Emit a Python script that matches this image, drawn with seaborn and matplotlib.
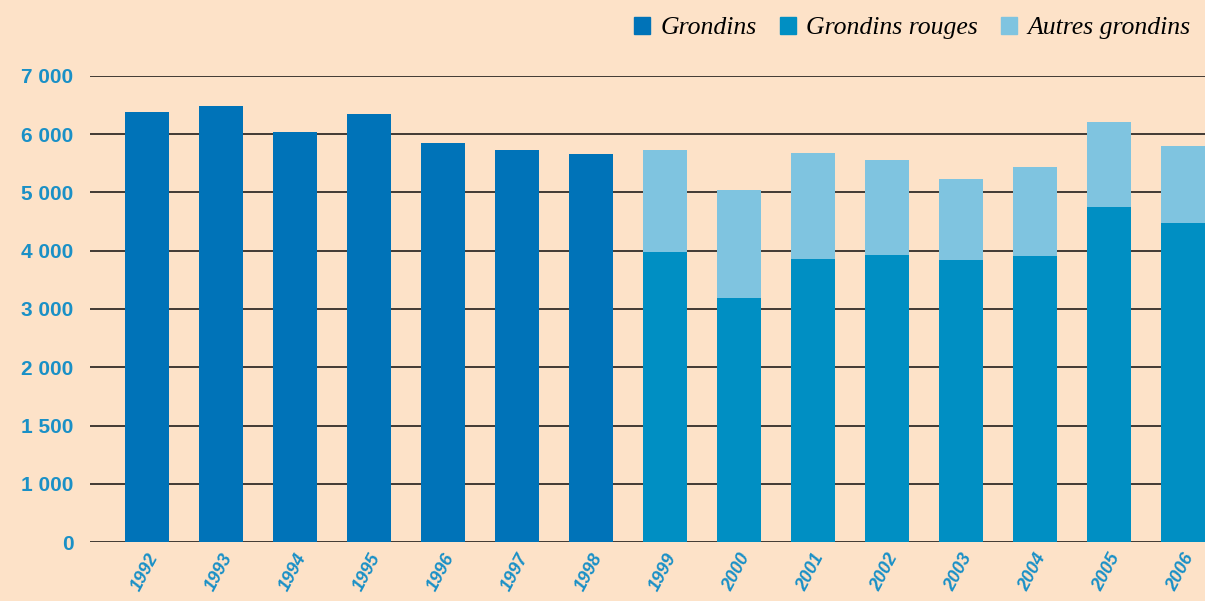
import matplotlib
matplotlib.use("Agg")
import matplotlib.pyplot as plt
from matplotlib.patches import Patch
import seaborn as sns
import numpy as np
import pandas as pd

years = [str(y) for y in range(1992, 2007)]
grondins_years = years[:7]
grondins = [6370, 6480, 6040, 6350, 5850, 5730, 5660]
split_years = years[7:]
grondins_rouges = [3970, 3180, 3860, 3930, 3840, 3910, 4750, 4480]
autres_grondins = [1760, 1855, 1820, 1630, 1380, 1530, 1460, 1320]

# the axis of the source is evenly spaced but labelled unevenly
tick_vals = [0, 1000, 1500, 2000, 3000, 4000, 5000, 6000, 7000]
tick_labels = ["0", "1 000", "1 500", "2 000", "3 000", "4 000", "5 000", "6 000", "7 000"]

c_gr = "#0073b8"
c_rouge = "#008fc3"
c_autres = "#7fc4e0"
bg = "#fde2c8"
blue_txt = "#1a90c6"

totals = [r + a for r, a in zip(grondins_rouges, autres_grondins)]
df_gr = pd.DataFrame({"year": grondins_years, "v": grondins})
df_tot = pd.DataFrame({"year": split_years, "v": totals})
df_rouge = pd.DataFrame({"year": split_years, "v": grondins_rouges})

_v = [-1000] + tick_vals + [8000]
_p = list(range(-1, len(tick_vals) + 1))


def fwd(x):
    return np.interp(x, _v, _p)


def inv(p):
    return np.interp(p, _p, _v)


sns.set_style("white")
sans = ["Liberation Sans", "DejaVu Sans"]
fig = plt.figure(figsize=(12.05, 6.01), dpi=100, facecolor=bg)
ax = fig.add_axes([0.0747, 0.098, 0.9253, 0.776])
ax.set_facecolor(bg)

ax.set_yscale("function", functions=(fwd, inv))
for v in tick_vals:
    ax.axhline(v, color="#221e1a", lw=1.2, zorder=0)

kw = dict(x="year", y="v", order=years, width=0.59, saturation=1, ax=ax,
          errorbar=None, linewidth=0, zorder=2)
sns.barplot(data=df_gr, color=c_gr, **kw)
sns.barplot(data=df_tot, color=c_autres, **kw)
sns.barplot(data=df_rouge, color=c_rouge, **kw)

ax.set_ylim(0, 7000)
ax.set_xlim(-0.77, 14.3)
ax.set_yticks(tick_vals)
ax.set_yticklabels(tick_labels)
ax.yaxis.set_minor_locator(matplotlib.ticker.NullLocator())
ax.tick_params(axis="y", length=0, pad=12, labelcolor=blue_txt)
ax.tick_params(axis="x", length=0, pad=6, labelcolor=blue_txt)
for t in ax.get_yticklabels():
    t.set_fontfamily(sans)
    t.set_fontsize(15)
    t.set_fontweight("bold")
for t in ax.get_xticklabels():
    t.set_fontfamily(sans)
    t.set_fontsize(13)
    t.set_rotation(62)
    t.set_ha("right")
    t.set_rotation_mode("anchor")
    t.set_fontstyle("italic")
    t.set_fontweight("bold")
ax.set_xlabel("")
ax.set_ylabel("")
for s in ax.spines.values():
    s.set_visible(False)

handles = [Patch(color=c_gr, label="Grondins"),
           Patch(color=c_rouge, label="Grondins rouges"),
           Patch(color=c_autres, label="Autres grondins")]
fig.legend(handles=handles, loc="upper right", bbox_to_anchor=(1.007, 1.01), ncol=3,
           frameon=False, handlelength=0.62, handleheight=0.62, handletextpad=0.4,
           columnspacing=0.9, labelcolor="black",
           prop={"family": "Liberation Serif", "style": "italic", "size": 18.5})

fig.savefig("out.png", dpi=100, facecolor=bg)
